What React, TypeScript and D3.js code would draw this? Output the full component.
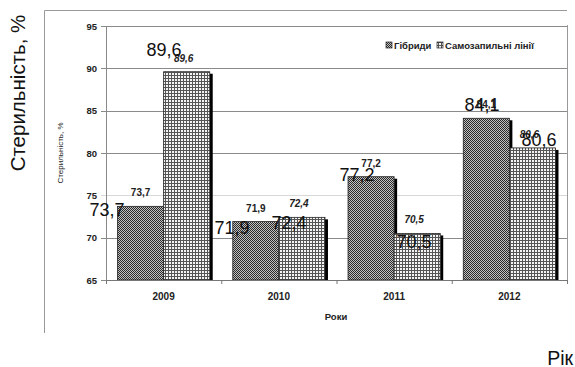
import * as d3 from 'd3';
import { useEffect, useRef } from 'react';

const years = ['2009', '2010', '2011', '2012'];
const hybrids = [73.7, 71.9, 77.2, 84.1];
const selfLines = [89.6, 72.4, 70.5, 80.6];
const seriesNames = ['Гібриди', 'Самозапильні лінії'];
const yTicks = [65, 70, 75, 80, 85, 90, 95];

const W = 575;
const H = 367;
const FONT = 'Arial, "Liberation Sans", sans-serif';

const fmt = (v: number) => String(v).replace('.', ',');

export default function App() {
  const ref = useRef<SVGSVGElement>(null);

  useEffect(() => {
    const svg = d3.select(ref.current);
    svg.selectAll('*').remove();

    const left = 106, right = 567, top = 26, bottom = 280;

    const defs = svg.append('defs');
    const pH = defs.append('pattern').attr('id', 'pHyb').attr('width', 2).attr('height', 2)
      .attr('patternUnits', 'userSpaceOnUse');
    pH.append('rect').attr('width', 2).attr('height', 2).attr('fill', '#c0c0c0');
    pH.append('rect').attr('width', 1).attr('height', 1).attr('fill', '#2a2a2a');
    pH.append('rect').attr('x', 1).attr('y', 1).attr('width', 1).attr('height', 1).attr('fill', '#2a2a2a');

    const pS = defs.append('pattern').attr('id', 'pSelf').attr('width', 3).attr('height', 3)
      .attr('patternUnits', 'userSpaceOnUse');
    pS.append('rect').attr('width', 3).attr('height', 3).attr('fill', '#f4f4f4');
    pS.append('rect').attr('width', 3).attr('height', 1).attr('fill', '#555');
    pS.append('rect').attr('width', 1).attr('height', 3).attr('fill', '#555');

    const fills = ['url(#pHyb)', 'url(#pSelf)'];

    // outer frame
    svg.append('path').attr('d', `M44.5,333V10.5H567`).attr('fill', 'none').attr('stroke', '#999').attr('stroke-width', 1);

    const x0 = d3.scaleBand().domain(years).range([left, right]).padding(0);
    const x1 = d3.scaleBand().domain(['h', 's']).range([0, x0.bandwidth()]).paddingInner(0).paddingOuter(0.25);
    const y = d3.scaleLinear().domain([65, 95]).range([bottom, top]);

    // overlay scales for the large (pasted) value labels
    const x2 = d3.scaleBand().domain(years).range([73, 573]);
    const x2s = d3.scaleBand().domain(['h', 's']).range([0, x2.bandwidth()]).paddingOuter(0.096);
    const y2 = d3.scaleLinear().domain([65, 95]).range([303, 2]);

    // gridlines + y ticks
    svg.append('g').selectAll('line').data(yTicks).enter().append('line')
      .attr('x1', left - 5).attr('x2', right)
      .attr('y1', d => Math.round(y(d)) + 0.5).attr('y2', d => Math.round(y(d)) + 0.5)
      .attr('stroke', d => (d === 75 ? '#d8d8d8' : '#8a8a8a')).attr('stroke-width', 1);

    svg.append('g').selectAll('text').data(yTicks).enter().append('text')
      .attr('x', 97).attr('y', d => y(d) + 3.5)
      .attr('text-anchor', 'end').attr('font-family', FONT).attr('font-weight', 'bold')
      .attr('font-size', 9.5).attr('fill', '#222').text(d => d);

    // plot borders
    svg.append('line').attr('x1', left + 0.5).attr('x2', left + 0.5).attr('y1', top).attr('y2', bottom)
      .attr('stroke', '#888');
    svg.append('line').attr('x1', right + 0.5).attr('x2', right + 0.5).attr('y1', top - 1).attr('y2', bottom)
      .attr('stroke', '#999');

    const rows = years.map((yr, i) => ({ yr, vals: [hybrids[i], selfLines[i]] }));
    const keys = ['h', 's'];

    // bars with black shadow on the right side
    rows.forEach(r => {
      r.vals.forEach((v, k) => {
        const bx = x0(r.yr)! + x1(keys[k])!;
        const bw = x1.bandwidth();
        svg.append('rect').attr('x', bx + bw).attr('y', y(v) + 2).attr('width', 3)
          .attr('height', bottom - y(v) - 2).attr('fill', '#000');
        svg.append('rect').attr('x', bx).attr('y', y(v)).attr('width', bw).attr('height', bottom - y(v))
          .attr('fill', fills[k]).attr('stroke', '#222').attr('stroke-width', 0.8);
      });
    });

    // x axis
    svg.append('line').attr('x1', left).attr('x2', right + 1).attr('y1', bottom + 0.5).attr('y2', bottom + 0.5)
      .attr('stroke', '#777');
    const bounds = years.map(yr => x0(yr)!).concat([right]);
    svg.append('g').selectAll('line').data(bounds).enter().append('line')
      .attr('x1', d => d + 0.5).attr('x2', d => d + 0.5).attr('y1', bottom).attr('y2', bottom + 4)
      .attr('stroke', '#777');
    svg.append('g').selectAll('text').data(years).enter().append('text')
      .attr('x', d => x0(d)! + x0.bandwidth() / 2).attr('y', 300)
      .attr('text-anchor', 'middle').attr('font-family', FONT).attr('font-weight', 'bold')
      .attr('font-size', 10).attr('fill', '#222').text(d => d);

    svg.append('text').attr('x', 336).attr('y', 320).attr('text-anchor', 'middle')
      .attr('font-family', FONT).attr('font-weight', 'bold').attr('font-size', 9.5).attr('fill', '#222')
      .text('Роки');

    // small value labels
    rows.forEach(r => {
      r.vals.forEach((v, k) => {
        const cx = x0(r.yr)! + x1(keys[k])! + x1.bandwidth() / 2 - (k === 1 ? 3 : 0);
        svg.append('text').attr('x', cx).attr('y', y(v) - 10).attr('text-anchor', 'middle')
          .attr('font-family', FONT).attr('font-weight', 'bold').attr('font-size', 10)
          .attr('font-style', k === 1 ? 'italic' : 'normal').attr('fill', '#222').text(fmt(v));
      });
    });

    // large value labels
    rows.forEach(r => {
      r.vals.forEach((v, k) => {
        const cx = x2(r.yr)! + x2s(keys[k])! + x2s.bandwidth() / 2;
        svg.append('text').attr('x', cx).attr('y', y2(v)).attr('text-anchor', 'middle')
          .attr('font-family', FONT).attr('font-size', 18).attr('fill', '#111').text(fmt(v));
      });
    });

    // legend
    const lg = svg.append('g').attr('font-family', FONT).attr('font-weight', 'bold').attr('font-size', 9.5)
      .attr('fill', '#222');
    const lx = [386, 437];
    seriesNames.forEach((n, k) => {
      lg.append('rect').attr('x', lx[k]).attr('y', 42).attr('width', 6).attr('height', 6)
        .attr('fill', fills[k]).attr('stroke', '#222').attr('stroke-width', 0.7);
      lg.append('text').attr('x', lx[k] + 8).attr('y', 49).text(n);
    });

    // inner y title
    svg.append('text').attr('transform', `translate(63,${(top + bottom) / 2}) rotate(-90)`)
      .attr('text-anchor', 'middle').attr('font-family', FONT).attr('font-size', 8).attr('fill', '#222')
      .text('Стерильність, %');

    // outer axis titles
    svg.append('text').attr('transform', `translate(25,93) rotate(-90)`)
      .attr('text-anchor', 'middle').attr('font-family', FONT).attr('font-size', 20.5).attr('fill', '#111')
      .text('Стерильність, %');
    svg.append('text').attr('x', 573).attr('y', 365).attr('text-anchor', 'end')
      .attr('font-family', FONT).attr('font-size', 19.5).attr('fill', '#111').text('Рік');
  }, []);

  return (
    <svg ref={ref} width={W} height={H}
      style={{ position: 'absolute', left: 0, top: 0, background: '#fff' }} />
  );
}
